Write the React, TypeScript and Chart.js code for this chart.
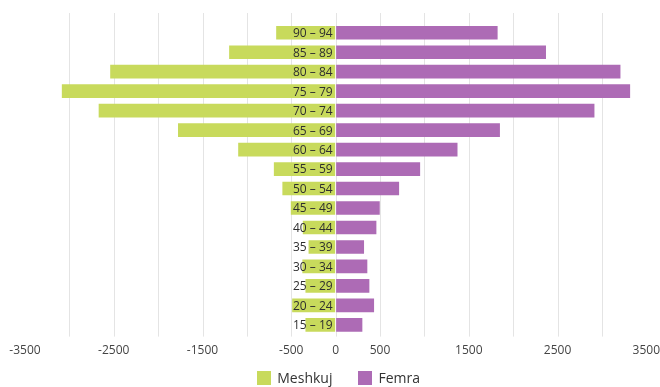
import React, { useEffect, useRef } from "react";
import { Chart, registerables } from "chart.js";

Chart.register(...registerables);

const ageGroups = [
  "90 – 94", "85 – 89", "80 – 84", "75 – 79", "70 – 74", "65 – 69", "60 – 64", "55 – 59",
  "50 – 54", "45 – 49", "40 – 44", "35 – 39", "30 – 34", "25 – 29", "20 – 24", "15 – 19",
];
const maleValues = [670, 1200, 2540, 3085, 2670, 1776, 1098, 696, 600, 505, 370, 305, 375, 340, 490, 340];
const femaleValues = [1825, 2370, 3209, 3318, 2916, 1851, 1373, 952, 715, 497, 459, 320, 357, 380, 433, 301];
const labeledTicks = [-3500, -2500, -1500, -500, 0, 500, 1500, 2500, 3500];
const seriesNames = ["Meshkuj", "Femra"];

const GREEN = "#c8da5c";
const PURPLE = "#ad6bb5";
const FONT = "'Open Sans', sans-serif";

const gridPlugin = {
  id: "customGrid",
  beforeDatasetsDraw(chart: any) {
    const { ctx, chartArea, scales } = chart;
    const x = scales.x;
    ctx.save();
    ctx.strokeStyle = "#e4e4e4";
    ctx.lineWidth = 1;
    x.ticks.forEach((t: any) => {
      if (Math.abs(t.value) >= 3500) return;
      const px = Math.round(x.getPixelForValue(t.value)) + 0.5;
      ctx.beginPath();
      ctx.moveTo(px, chartArea.top - 10);
      ctx.lineTo(px, chartArea.bottom + 2);
      ctx.stroke();
    });
    ctx.restore();
  },
};

const labelPlugin = {
  id: "centerLabels",
  afterDatasetsDraw(chart: any) {
    const { ctx, scales } = chart;
    const x = scales.x;
    const y = scales.y;
    const x0 = x.getPixelForValue(0) - 3;
    ctx.save();
    ctx.font = "12px " + FONT;
    ctx.fillStyle = "#2e2e2e";
    ctx.textAlign = "right";
    ctx.textBaseline = "middle";
    ageGroups.forEach((lab, i) => {
      ctx.fillText(lab, x0, y.getPixelForValue(i) + 1);
    });
    ctx.restore();
  },
};

const legendPlugin = {
  id: "customLegend",
  afterDraw(chart: any) {
    const { ctx, chartArea } = chart;
    const ds = chart.data.datasets;
    ctx.save();
    ctx.font = "14px " + FONT;
    ctx.textBaseline = "middle";
    ctx.textAlign = "left";
    const box = 14;
    const gap = 6;
    const spacing = 26;
    const widths = ds.map((d: any) => box + gap + ctx.measureText(d.label).width);
    const total = widths.reduce((a: number, b: number) => a + b, 0) + spacing * (ds.length - 1);
    const cx = (chartArea.left + chartArea.right) / 2 + 3;
    const cy = chart.height - 9;
    let xPos = cx - total / 2;
    ds.forEach((d: any, i: number) => {
      ctx.fillStyle = d.backgroundColor;
      ctx.fillRect(Math.round(xPos), Math.round(cy - box / 2), box, box);
      ctx.fillStyle = "#333333";
      ctx.fillText(d.label, xPos + box + gap, cy + 1);
      xPos += widths[i] + spacing;
    });
    ctx.restore();
  },
};

export default function App() {
  const ref = useRef<HTMLCanvasElement | null>(null);
  useEffect(() => {
    if (!ref.current) return;
    const chart = new Chart(ref.current, {
      type: "bar",
      data: {
        labels: ageGroups,
        datasets: [
          {
            label: seriesNames[0],
            data: maleValues.map((v) => -v),
            backgroundColor: GREEN,
            borderWidth: 0,
          },
          {
            label: seriesNames[1],
            data: femaleValues,
            backgroundColor: PURPLE,
            borderWidth: 0,
          },
        ],
      },
      options: {
        indexAxis: "y",
        animation: false,
        responsive: true,
        maintainAspectRatio: false,
        layout: { padding: { left: 25, right: 6, top: 23, bottom: 29 } },
        datasets: { bar: { categoryPercentage: 1, barPercentage: 0.7 } },
        scales: {
          x: {
            type: "linear",
            stacked: true,
            min: -3500,
            max: 3500,
            grid: { display: true, drawOnChartArea: false, drawTicks: true, tickLength: 9, color: "rgba(0,0,0,0)" },
            border: { display: false },
            ticks: {
              stepSize: 500,
              autoSkip: false,
              maxRotation: 0,
              padding: 0,
              color: "#444444",
              font: { family: FONT, size: 12 },
              callback: (v: any) => {
                const n = Number(v);
                return labeledTicks.includes(n) ? String(n) : "";
              },
            },
          },
          y: {
            stacked: true,
            display: false,
          },
        },
        plugins: {
          legend: { display: false },
          tooltip: { enabled: false },
        },
      },
      plugins: [gridPlugin, labelPlugin, legendPlugin],
    });
    return () => chart.destroy();
  }, []);
  return (
    <div style={{ position: "fixed", left: 0, top: 0, width: 660, height: 387, background: "#ffffff" }}>
      <canvas ref={ref} />
    </div>
  );
}
